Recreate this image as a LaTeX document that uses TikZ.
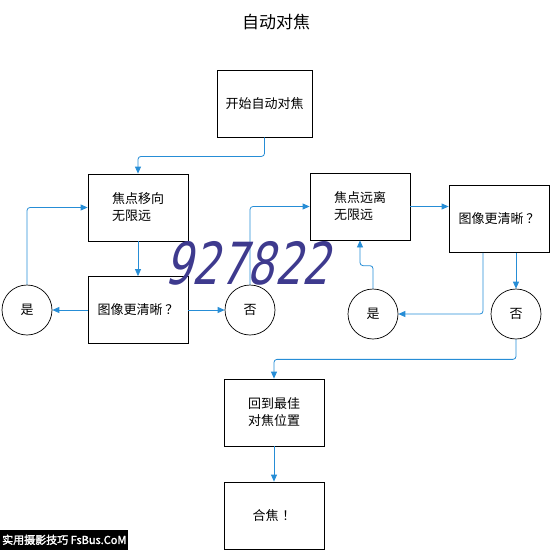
\documentclass[tikz,border=0pt]{standalone}
\usepackage{fontspec}
\setmainfont{Noto Sans CJK SC}
\newfontfamily\tagfont{Noto Sans CJK SC}[AutoFakeBold=2]
\newfontfamily\wmfont{DejaVu Sans}
\usepackage{xcolor}
\usetikzlibrary{arrows.meta}
\definecolor{flowblue}{RGB}{38,141,214}
\definecolor{wmblue}{RGB}{62,58,142}
\tikzset{box/.style={draw, line width=0.8pt, minimum width=100pt, minimum height=67pt,
         inner sep=2pt, align=left, font=\fontsize{13}{17}\selectfont},
         answer/.style={circle, draw, line width=0.7pt, minimum size=50pt,
         inner sep=0pt, font=\fontsize{13}{15}\selectfont},
         flow/.style={draw=flowblue, line width=0.8pt, rounded corners=3pt,
         -{Triangle[length=7pt, width=6pt]}}}

\begin{document}
\begin{tikzpicture}[x=1pt, y=-1pt]
\useasboundingbox (0,0) rectangle (552,552);
\node (title) at (276,22) {\fontsize{17}{19}\selectfont 自动对焦};
% first pass, towards infinity
\node[box, minimum width=95pt] (start) at (264.5,103.5) {开始自动对焦};
\node[box] (near) at (138,207.5) {焦点移向\\无限远};
\node[box] (check1) at (138,310) {图像更清晰\hspace{3pt}？};
\node[answer] (yes1) at (27,310) {是};
\node[answer] (no1) at (250,310) {否};
% second pass, away from infinity
\node[box] (far) at (360,206.5) {焦点远离\\无限远};
\node[box] (check2) at (499,219) {图像更清晰\hspace{3pt}？};
\node[answer] (yes2) at (373,314) {是};
\node[answer] (no2) at (516,314) {否};
% finish
\node[box, align=center] (back) at (274,412.5) {回到最佳\\对焦位置};
\node[box] (done) at (274,515.5) {合焦\hspace{4pt}！};
\draw[flow] (start.south) -- ++(0,19) -| (near.north);
\draw[flow] (near) -- (check1);
\draw[flow] (check1) -- (yes1);
\draw[flow] (check1) -- (no1);
\draw[flow] (yes1.north) |- (near.west);
\draw[flow] (no1.north) |- (far.west);
\draw[flow] (far.east) -- (far.east -| check2.west);
\draw[flow] ([xshift=-16pt]check2.south) |- (yes2.east);
\draw[flow] (check2.south -| no2.north) -- (no2.north);
\draw[flow] (yes2.north) -- ++(0,-23) -| (far.south);
\draw[flow] (no2.south) -- ++(0,20) -| (back.north);
\draw[flow] (back) -- (done);
% overlays
\node[text=wmblue, transform shape, xslant=0.25, yscale=1.35,
      font=\wmfont\fontsize{43}{43}\selectfont] (mark) at (252,263) {927822};
\node[fill=black, text=white, anchor=south west, inner sep=2pt, minimum height=20pt,
      font=\tagfont\bfseries\fontsize{11}{12}\selectfont] (tag) at (0,550) {实用摄影技巧 FsBus.CoM};
\end{tikzpicture}
\end{document}
